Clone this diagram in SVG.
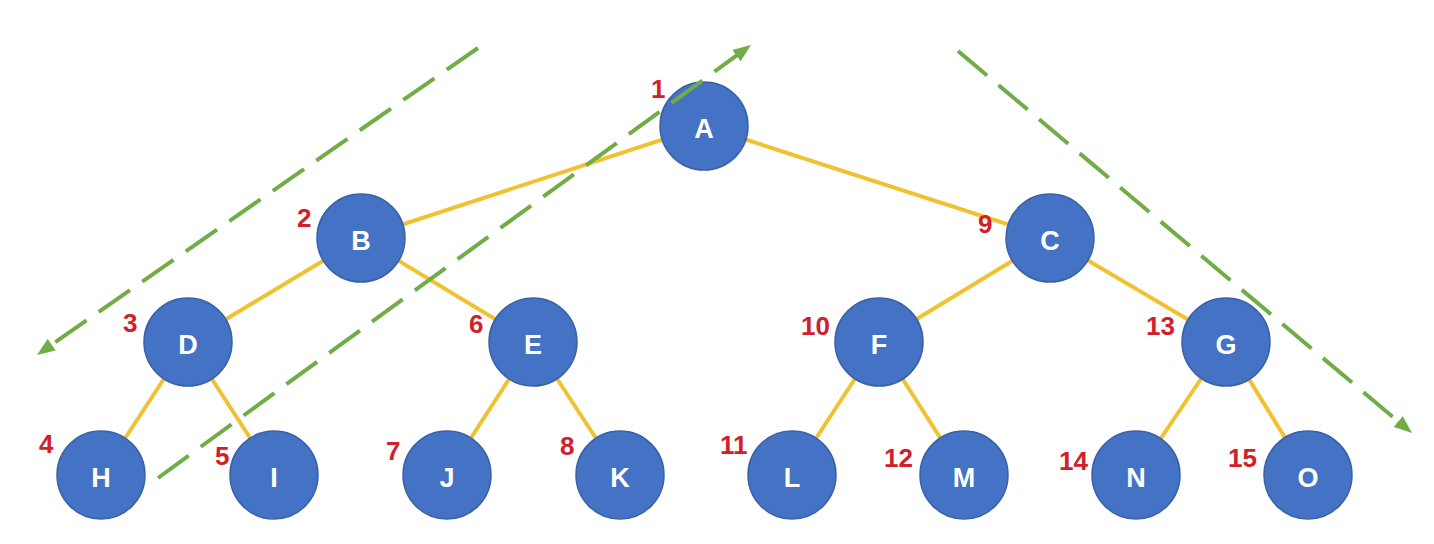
<svg xmlns="http://www.w3.org/2000/svg" width="1434" height="544" viewBox="0 0 1434 544">
<style>
.edge{stroke:#F0C232;stroke-width:4;fill:none}
.trav{stroke:#70AD47;stroke-width:4;fill:none;stroke-dasharray:38 15}
.node circle{fill:#4472C4;stroke:#3B62A6;stroke-width:1.5}
.node text{font-family:"Liberation Sans",Arial,sans-serif;font-weight:bold;font-size:27px;fill:#FFFFFF;text-anchor:middle}
.num{font-family:"Liberation Sans",Arial,sans-serif;font-weight:bold;font-size:26px;fill:#D0202A}
</style>
<defs>
<marker id="arr" markerUnits="userSpaceOnUse" markerWidth="18" markerHeight="14" refX="6" refY="7" orient="auto">
<path d="M0,0 L18,7 L0,14 z" fill="#70AD47"/>
</marker>
</defs>
<rect width="1434" height="544" fill="#FFFFFF"/>
<g id="connectors">
<line class="edge" x1="704" y1="126" x2="361" y2="238"/>
<line class="edge" x1="704" y1="126" x2="1050" y2="238"/>
<line class="edge" x1="361" y1="238" x2="188" y2="342"/>
<line class="edge" x1="361" y1="238" x2="533" y2="342"/>
<line class="edge" x1="1050" y1="238" x2="879" y2="342"/>
<line class="edge" x1="1050" y1="238" x2="1226" y2="342"/>
<line class="edge" x1="188" y1="342" x2="101" y2="475"/>
<line class="edge" x1="188" y1="342" x2="274" y2="475"/>
<line class="edge" x1="533" y1="342" x2="447" y2="475"/>
<line class="edge" x1="533" y1="342" x2="620" y2="475"/>
<line class="edge" x1="879" y1="342" x2="792" y2="475"/>
<line class="edge" x1="879" y1="342" x2="964" y2="475"/>
<line class="edge" x1="1226" y1="342" x2="1136" y2="475"/>
<line class="edge" x1="1226" y1="342" x2="1308" y2="475"/>
</g>
<g id="node-A" class="node"><circle cx="704" cy="126" r="44"/><text x="704" y="138">A</text></g>
<g id="node-B" class="node"><circle cx="361" cy="238" r="44"/><text x="361" y="250">B</text></g>
<g id="node-C" class="node"><circle cx="1050" cy="238" r="44"/><text x="1050" y="250">C</text></g>
<g id="node-D" class="node"><circle cx="188" cy="342" r="44"/><text x="188" y="354">D</text></g>
<g id="node-E" class="node"><circle cx="533" cy="342" r="44"/><text x="533" y="354">E</text></g>
<g id="node-F" class="node"><circle cx="879" cy="342" r="44"/><text x="879" y="354">F</text></g>
<g id="node-G" class="node"><circle cx="1226" cy="342" r="44"/><text x="1226" y="354">G</text></g>
<g id="node-H" class="node"><circle cx="101" cy="475" r="44"/><text x="101" y="487">H</text></g>
<g id="node-I" class="node"><circle cx="274" cy="475" r="44"/><text x="274" y="487">I</text></g>
<g id="node-J" class="node"><circle cx="447" cy="475" r="44"/><text x="447" y="487">J</text></g>
<g id="node-K" class="node"><circle cx="620" cy="475" r="44"/><text x="620" y="487">K</text></g>
<g id="node-L" class="node"><circle cx="792" cy="475" r="44"/><text x="792" y="487">L</text></g>
<g id="node-M" class="node"><circle cx="964" cy="475" r="44"/><text x="964" y="487">M</text></g>
<g id="node-N" class="node"><circle cx="1136" cy="475" r="44"/><text x="1136" y="487">N</text></g>
<g id="node-O" class="node"><circle cx="1308" cy="475" r="44"/><text x="1308" y="487">O</text></g>
<g id="traversal">
<line class="trav" x1="478" y1="48" x2="46.8" y2="348.1" marker-end="url(#arr)"/>
<line class="trav" x1="158" y1="478" x2="741.3" y2="52.1" marker-end="url(#arr)"/>
<line class="trav" x1="958" y1="51" x2="1402.8" y2="425.3" marker-end="url(#arr)"/>
</g>
<g id="numbers">
<text class="num" x="651" y="98">1</text>
<text class="num" x="297" y="227">2</text>
<text class="num" x="123" y="332">3</text>
<text class="num" x="39" y="453">4</text>
<text class="num" x="215" y="465">5</text>
<text class="num" x="469" y="333">6</text>
<text class="num" x="386" y="460">7</text>
<text class="num" x="560" y="455">8</text>
<text class="num" x="978" y="233">9</text>
<text class="num" x="801" y="335">10</text>
<text class="num" x="720" y="454">11</text>
<text class="num" x="884" y="467">12</text>
<text class="num" x="1146" y="335">13</text>
<text class="num" x="1059" y="470">14</text>
<text class="num" x="1228" y="467">15</text>
</g>
</svg>
